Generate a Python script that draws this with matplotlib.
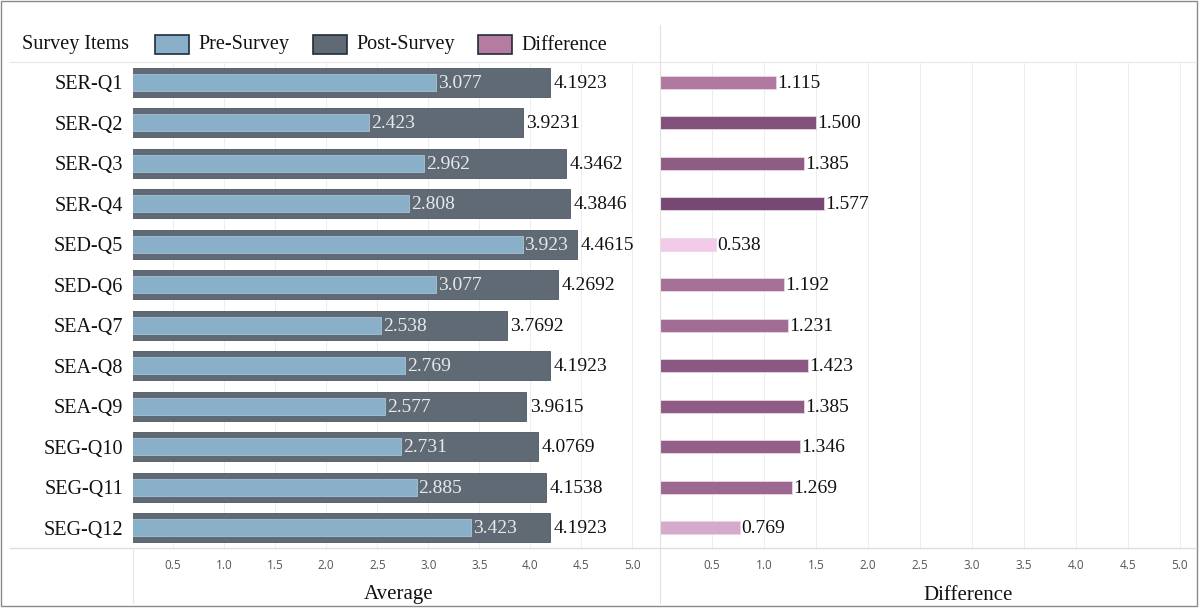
import matplotlib
matplotlib.use("Agg")
import matplotlib.pyplot as plt
from matplotlib.colors import LinearSegmentedColormap, Normalize
from matplotlib.patches import Rectangle
from matplotlib.lines import Line2D

items = ["SER-Q1", "SER-Q2", "SER-Q3", "SER-Q4", "SED-Q5", "SED-Q6",
         "SEA-Q7", "SEA-Q8", "SEA-Q9", "SEG-Q10", "SEG-Q11", "SEG-Q12"]
pre = [3.077, 2.423, 2.962, 2.808, 3.923, 3.077, 2.538, 2.769, 2.577, 2.731, 2.885, 3.423]
post = [4.1923, 3.9231, 4.3462, 4.3846, 4.4615, 4.2692, 3.7692, 4.1923, 3.9615, 4.0769, 4.1538, 4.1923]
diff = [1.115, 1.500, 1.385, 1.577, 0.538, 1.192, 1.231, 1.423, 1.385, 1.346, 1.269, 0.769]
ticks = [0.5, 1.0, 1.5, 2.0, 2.5, 3.0, 3.5, 4.0, 4.5, 5.0]

W, H = 1204, 611
fig = plt.figure(figsize=(W / 100, H / 100), dpi=100)
serif = ["Liberation Serif", "DejaVu Serif"]

def fx(px):
    return px / W

def fy(py):
    return 1 - py / H

PRE_C = "#8aafc9"
POST_C = "#5f6a75"
cmap = LinearSegmentedColormap.from_list("pk", ["#f2cbe8", "#b77fa4", "#784874"])
norm = Normalize(vmin=0.538, vmax=1.577)

top, bot = 62, 548
axL = fig.add_axes([fx(133), fy(bot), fx(660 - 133), (bot - top) / H])
axR = fig.add_axes([fx(660), fy(bot), fx(1192 - 660), (bot - top) / H])

ypos = list(range(len(items)))
axL.barh(ypos, post, height=0.72, color=POST_C, edgecolor="#4d5762", linewidth=0.6, zorder=2)
axL.barh(ypos, pre, height=0.42, color=PRE_C, edgecolor="#a9c3d6", linewidth=0.6, zorder=3)
for y, a, b in zip(ypos, pre, post):
    axL.text(a + 0.02, y + 0.03, f"{a:.3f}", va="center", ha="left", color="#e6e9ec",
             fontsize=14, family=serif, zorder=4)
    axL.text(b + 0.035, y + 0.03, f"{b:.4f}", va="center", ha="left", color="#111111",
             fontsize=14, family=serif, zorder=4)

cols = [cmap(norm(v)) for v in diff]
axR.barh(ypos, diff, height=0.33, color=cols, edgecolor="#e9d6e6", linewidth=0.6, zorder=3)
for y, d in zip(ypos, diff):
    axR.text(d + 0.015, y + 0.03, f"{d:.3f}", va="center", ha="left", color="#111111",
             fontsize=14, family=serif, zorder=4)

axL.set_xlim(0.107, 5.27)
axR.set_xlim(0.0, 5.12)
for ax in (axL, axR):
    ax.set_ylim(len(items) - 0.5, -0.5)
    ax.set_xticks(ticks)
    ax.set_xticklabels([f"{t:.1f}" for t in ticks])
    ax.tick_params(axis="x", length=0, pad=8, labelsize=8.5, labelcolor="#555555")
    for lab in ax.get_xticklabels():
        lab.set_family(["Open Sans", "DejaVu Sans"])
    ax.grid(axis="x", color="#eeeeee", linewidth=0.8, zorder=0)
    ax.set_axisbelow(True)
    for s in ax.spines.values():
        s.set_visible(False)

axL.set_yticks(ypos)
axL.set_yticklabels(items, family=serif, fontsize=14.5, color="#111111")
axL.tick_params(axis="y", length=0, pad=7)
axR.set_yticks([])

fig.text(fx(399), fy(595), "Average", ha="center", va="center", fontsize=15, family=serif, color="#111111")
fig.text(fx(968), fy(595), "Difference", ha="center", va="center", fontsize=15, family=serif, color="#111111")
fig.text(fx(22), fy(45), "Survey Items", ha="left", va="center", fontsize=14.5, family=serif, color="#111111")

# legend
leg = [(155, "Pre-Survey", PRE_C), (313, "Post-Survey", POST_C), (478, "Difference", "#b57ba0")]
for x0, lab, c in leg:
    fig.patches.append(Rectangle((fx(x0), fy(54)), fx(34), 19 / H, transform=fig.transFigure,
                                 facecolor=c, edgecolor="#1f2d3a", linewidth=1.2))
    fig.text(fx(x0 + 43), fy(45), lab, ha="left", va="center", fontsize=14.5, family=serif, color="#111111")

# frame lines
def fline(x1, y1, x2, y2, c="#dddddd", lw=0.8):
    fig.lines.append(Line2D([fx(x1), fx(x2)], [fy(y1), fy(y2)], transform=fig.transFigure, color=c, linewidth=lw))

fline(10, top, 1196, top, "#e6e6e6")
fline(10, bot, 1196, bot, "#dddddd", 1.0)
fline(660, 25, 660, 603, "#e0e0e0")
fline(133, bot, 133, 603, "#e6e6e6")
fig.patches.append(Rectangle((fx(1), fy(606)), fx(1196), 605 / H, transform=fig.transFigure,
                             facecolor="none", edgecolor="#8a8a8a", linewidth=1.0))

fig.savefig("out.png", dpi=100)
